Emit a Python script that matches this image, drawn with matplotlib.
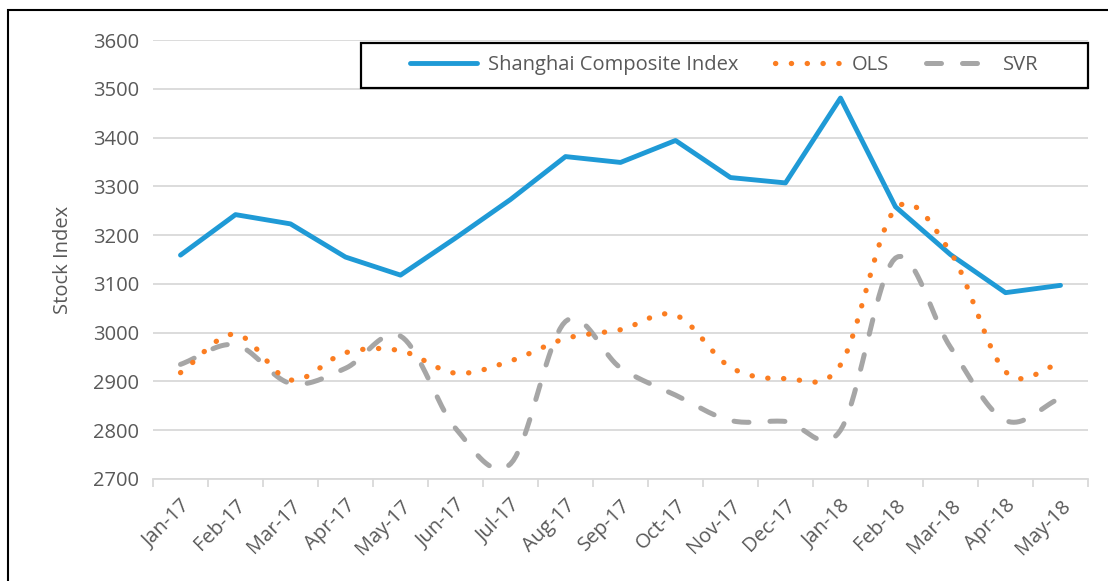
import numpy as np
import matplotlib
matplotlib.use('Agg')
import matplotlib.pyplot as plt
from matplotlib.patches import Rectangle

# monthly values
months = ['Jan-17', 'Feb-17', 'Mar-17', 'Apr-17', 'May-17', 'Jun-17', 'Jul-17',
          'Aug-17', 'Sep-17', 'Oct-17', 'Nov-17', 'Dec-17', 'Jan-18', 'Feb-18',
          'Mar-18', 'Apr-18', 'May-18']
shanghai = [3159, 3242, 3223, 3155, 3118, 3194, 3273, 3361, 3349, 3394, 3318,
            3307, 3481, 3258, 3160, 3082, 3097]
ols = [2918, 2997, 2903, 2959, 2963, 2917, 2942, 2988, 3006, 3036, 2929,
       2906, 2934, 3254, 3165, 2920, 2936]
svr = [2935, 2975, 2896, 2927, 2993, 2804, 2731, 3023, 2928, 2872, 2820,
       2818, 2800, 3153, 2970, 2820, 2866]
yticks = [2700, 2800, 2900, 3000, 3100, 3200, 3300, 3400, 3500, 3600]

BLUE = '#1f9ad6'
ORANGE = '#fb7d21'
GRAY = '#a6a6a6'
TXT = '#595959'


def smooth(x, y, n=20):
    """Catmull-Rom curve through the points, like Excel's smoothed line."""
    x = np.asarray(x, float)
    y = np.asarray(y, float)
    px = np.concatenate([[2 * x[0] - x[1]], x, [2 * x[-1] - x[-2]]])
    py = np.concatenate([[2 * y[0] - y[1]], y, [2 * y[-1] - y[-2]]])
    xs, ys = [], []
    t = np.linspace(0, 1, n, endpoint=False)
    for i in range(1, len(px) - 2):
        for p, out in ((px, xs), (py, ys)):
            p0, p1, p2, p3 = p[i - 1], p[i], p[i + 1], p[i + 2]
            out.extend(0.5 * ((2 * p1) + (-p0 + p2) * t +
                              (2 * p0 - 5 * p1 + 4 * p2 - p3) * t ** 2 +
                              (-p0 + 3 * p1 - 3 * p2 + p3) * t ** 3))
    xs.append(x[-1])
    ys.append(y[-1])
    return np.array(xs), np.array(ys)


plt.rcParams['font.family'] = ['Open Sans', 'DejaVu Sans']

fig = plt.figure(figsize=(11.08, 5.81), dpi=100)
ax = fig.add_axes([153 / 1108, 1 - 479 / 581, 935 / 1108, 439 / 581])

x = np.arange(len(months))
ax.plot(x, shanghai, color=BLUE, lw=3.5, solid_capstyle='round',
        solid_joinstyle='round', label='Shanghai Composite Index', zorder=3)
sx, sy = smooth(x, ols)
ax.plot(sx, sy, color=ORANGE, lw=3.8, linestyle=(0, (0.05, 2.95)),
        dash_capstyle='round', label='OLS', zorder=4)
sx, sy = smooth(x, svr)
ax.plot(sx, sy, color=GRAY, lw=3.6, linestyle=(0, (3.0, 4.2)),
        dash_capstyle='round', label='SVR', zorder=2)

ax.set_xlim(-0.5, len(months) - 0.5)
ax.set_ylim(2700, 3600)
ax.set_yticks(yticks)
ax.tick_params(axis='y', length=0, labelsize=14.5, labelcolor=TXT, pad=10)
ax.grid(axis='y', color='#d9d9d9', lw=1.3)
ax.set_axisbelow(True)

ax.set_xticks(x)
ax.set_xticklabels(months, rotation=45, ha='right', rotation_mode='anchor')
ax.set_xticks(np.arange(-0.5, len(months)), minor=True)
ax.tick_params(axis='x', which='major', length=0, labelsize=14.5,
               labelcolor=TXT, pad=12)
ax.tick_params(axis='x', which='minor', length=6, width=1.3, color='#d9d9d9')

for s in ('top', 'right', 'left'):
    ax.spines[s].set_visible(False)
ax.spines['bottom'].set_color('#d9d9d9')
ax.spines['bottom'].set_linewidth(1.3)

ax.set_ylabel('Stock Index', fontsize=14.5, color=TXT, labelpad=14)

# legend box spans the upper right of the plot, entries centred inside it
box = (0.2225, 0.891, 0.7775, 0.102)
leg = ax.legend(loc='center', ncol=3, bbox_to_anchor=box,
                fontsize=14.5, frameon=False, handlelength=3.3,
                handletextpad=0.55, columnspacing=1.8, borderaxespad=0)
for t in leg.get_texts():
    t.set_color(TXT)
ax.add_patch(Rectangle(box[:2], box[2], box[3], transform=ax.transAxes,
                       fill=True, facecolor='white', edgecolor='black',
                       lw=1.6, zorder=5, clip_on=False))
leg.set_zorder(6)

# outer frame of the chart area
fig.patches.append(Rectangle((8 / 1108, -0.05), 1.2, 1 - 10 / 581 + 0.05,
                             transform=fig.transFigure, fill=False,
                             edgecolor='black', lw=1.5))

fig.savefig('out.png', dpi=100)
